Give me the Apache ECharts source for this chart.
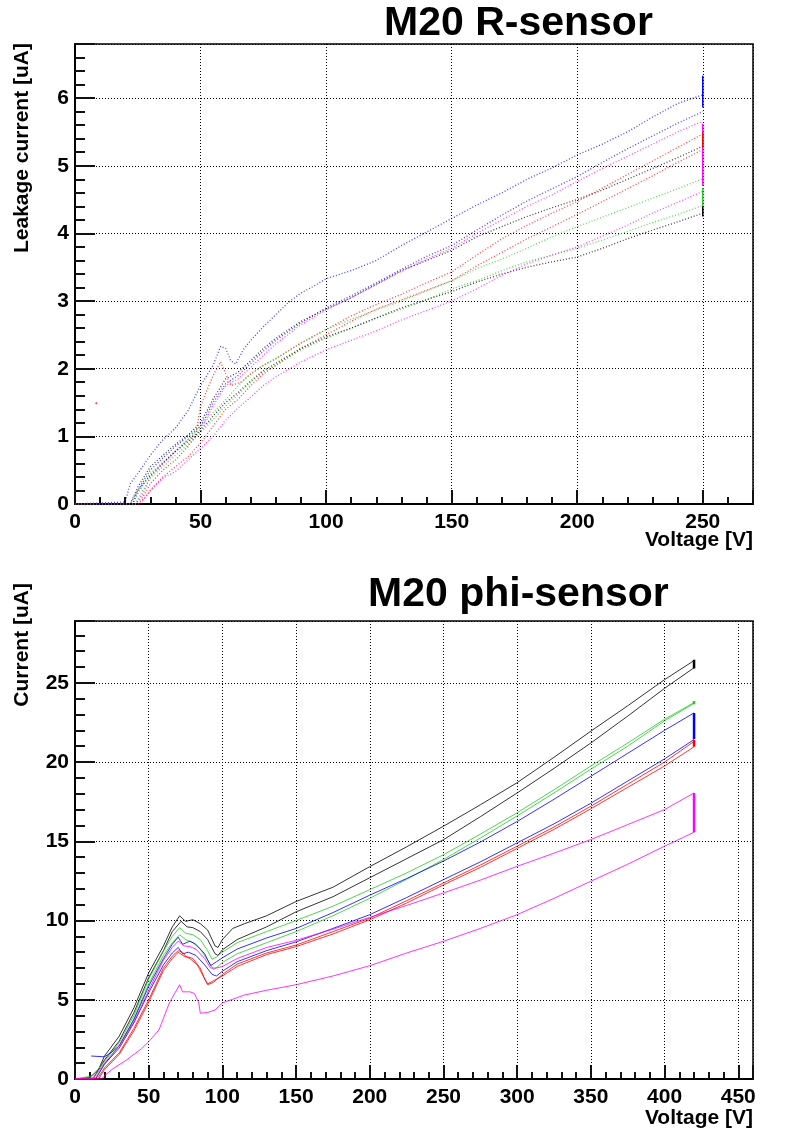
<!DOCTYPE html>
<html>
<head>
<meta charset="utf-8">
<script src="https://cdn.jsdelivr.net/npm/echarts@6/dist/echarts.min.js"></script>
<style>
html,body{margin:0;padding:0;background:#fff;}
#c{width:785px;height:1135px;}
</style>
</head>
<body>
<div id="c"></div>
<script>
// ---------- Top chart: M20 R-sensor (Voltage [V], Leakage current [uA]) ----------
const topTitle = 'M20 R-sensor';
const topXTicks = [0, 50, 100, 150, 200, 250];
const topYTicks = [0, 1, 2, 3, 4, 5, 6];

const rBlueA = [[0,0],[20,0.03],[22,0.3],[25,0.45],[30,0.72],[35,0.95],[40,1.12],[45,1.38],[50,1.75],[55,2.05],[58,2.33],[60,2.3],[62,2.12],[64,2.07],[67,2.28],[70,2.42],[75,2.62],[80,2.8],[85,2.98],[90,3.12],[95,3.22],[100,3.33],[110,3.45],[120,3.6],[130,3.82],[140,4.02],[150,4.22],[160,4.42],[170,4.6],[180,4.8],[190,4.97],[200,5.16],[210,5.32],[220,5.5],[230,5.72],[240,5.92],[250,6.05]];
const rBlueB = [[0,0],[22,0],[25,0.2],[30,0.5],[35,0.68],[40,0.85],[45,1.0],[50,1.15],[55,1.5],[60,1.78],[65,1.9],[70,2.08],[75,2.26],[80,2.42],[90,2.68],[100,2.9],[110,3.08],[120,3.27],[130,3.47],[140,3.66],[150,3.82],[160,4.05],[170,4.27],[180,4.48],[190,4.66],[200,4.84],[210,5.05],[220,5.25],[230,5.44],[240,5.63],[250,5.80]];
const rMagentaA = [[0,0],[24,0],[27,0.15],[30,0.4],[35,0.6],[40,0.78],[45,0.95],[50,1.1],[55,1.45],[60,1.75],[65,1.85],[70,2.02],[75,2.2],[80,2.37],[90,2.65],[100,2.87],[110,3.05],[120,3.24],[130,3.44],[140,3.62],[150,3.78],[160,4.0],[170,4.2],[180,4.4],[190,4.57],[200,4.77],[210,4.96],[220,5.14],[230,5.32],[240,5.5],[250,5.66]];
const rBlackA = [[0,0],[10,0],[10,0.1],[10,0],[22,0],[25,0.25],[30,0.55],[35,0.72],[40,0.88],[45,1.02],[50,1.2],[55,1.55],[60,1.85],[65,1.95],[70,2.12],[75,2.3],[80,2.45],[90,2.7],[100,2.88],[110,3.05],[120,3.25],[130,3.45],[140,3.6],[150,3.75],[160,3.95],[170,4.1],[180,4.25],[190,4.38],[200,4.5],[210,4.64],[220,4.8],[230,4.96],[240,5.12],[250,5.29]];
const rRedA = [[0,0],[24,0],[27,0.1],[30,0.3],[35,0.5],[40,0.65],[45,0.85],[48,1.0],[50,1.45],[55,1.9],[58,2.1],[62,1.75],[66,1.8],[70,1.92],[75,2.05],[80,2.15],[90,2.38],[100,2.58],[110,2.78],[120,2.95],[130,3.1],[140,3.27],[150,3.43],[160,3.68],[170,3.92],[180,4.12],[190,4.3],[200,4.47],[210,4.67],[220,4.87],[230,5.07],[240,5.27],[250,5.47]];
const rRedB = [[0,0],[25,0],[28,0.1],[30,0.2],[35,0.4],[40,0.55],[45,0.7],[50,0.9],[55,1.15],[60,1.4],[65,1.55],[70,1.75],[75,1.92],[80,2.05],[90,2.3],[100,2.5],[110,2.7],[120,2.88],[130,3.02],[140,3.16],[150,3.3],[160,3.52],[170,3.72],[180,3.92],[190,4.1],[200,4.28],[210,4.47],[220,4.66],[230,4.85],[240,5.05],[250,5.24]];
const rGreenA = [[0,0],[23,0],[25,0.15],[30,0.45],[35,0.62],[40,0.78],[45,0.95],[50,1.15],[55,1.35],[60,1.54],[65,1.75],[70,1.93],[75,2.05],[80,2.15],[90,2.38],[100,2.58],[110,2.73],[120,2.87],[130,3.0],[140,3.15],[150,3.3],[160,3.48],[170,3.62],[180,3.78],[190,3.95],[200,4.1],[210,4.24],[220,4.38],[230,4.52],[240,4.66],[250,4.81]];
const rGreenB = [[0,0],[24,0],[27,0.2],[30,0.38],[35,0.55],[40,0.72],[45,0.88],[50,1.05],[55,1.25],[60,1.45],[65,1.62],[70,1.8],[75,1.95],[80,2.05],[90,2.28],[100,2.45],[110,2.6],[120,2.75],[130,2.88],[140,3.02],[150,3.18],[160,3.3],[170,3.45],[180,3.58],[190,3.68],[200,3.78],[210,3.9],[220,4.03],[230,4.16],[240,4.28],[250,4.41]];
const rBlackB = [[0,0],[23,0],[25,0.2],[30,0.42],[35,0.6],[40,0.78],[45,0.92],[50,1.08],[55,1.3],[60,1.5],[65,1.65],[70,1.82],[75,1.97],[80,2.08],[90,2.3],[100,2.47],[110,2.6],[120,2.75],[130,2.9],[140,3.02],[150,3.14],[160,3.28],[170,3.4],[180,3.5],[190,3.58],[200,3.65],[210,3.78],[220,3.92],[230,4.05],[240,4.17],[250,4.3]];
const rMagentaB = [[0,0],[26,0],[28,0.1],[30,0.2],[35,0.38],[40,0.48],[45,0.65],[50,0.82],[55,1.0],[60,1.24],[65,1.42],[70,1.58],[75,1.75],[80,1.88],[90,2.1],[100,2.28],[110,2.42],[120,2.56],[130,2.72],[140,2.86],[150,3.0],[160,3.18],[170,3.38],[180,3.55],[190,3.68],[200,3.8],[210,3.96],[220,4.12],[230,4.3],[240,4.46],[250,4.62]];
// hold at 250 V (current drifting at fixed voltage)
const rHoldBlue = [[250,6.33],[250,5.86]];
const rHoldMagenta = [[250,5.62],[250,4.7]];
const rHoldRed = [[250,5.49],[250,5.27]];
const rHoldGreen = [[250,4.67],[250,4.40]];
const rHoldBlack = [[250,4.40],[250,4.25]];
const rStray = [[8.5,1.49]];

// ---------- Bottom chart: M20 phi-sensor (Voltage [V], Current [uA]) ----------
const botTitle = 'M20 phi-sensor';
const botXTicks = [0, 50, 100, 150, 200, 250, 300, 350, 400, 450];
const botYTicks = [0, 5, 10, 15, 20, 25];

const pBlackA = [[0,0],[10,0.1],[16,0.6],[20,1.45],[30,2.7],[40,4.5],[50,6.7],[60,8.4],[66,9.6],[71,10.3],[75,9.95],[80,10.05],[85,9.8],[90,9.4],[95,8.4],[97,8.3],[100,8.8],[107,9.5],[115,9.8],[130,10.3],[150,11.2],[175,12.1],[200,13.4],[225,14.65],[250,15.95],[275,17.3],[300,18.7],[325,20.3],[350,21.95],[375,23.55],[400,25.2],[420,26.4]];
const pBlackB = [[0,0],[12,0],[20,1.2],[30,2.4],[40,4.2],[50,6.4],[60,8.1],[66,9.3],[72,9.95],[76,9.6],[80,9.55],[85,9.3],[90,8.8],[95,7.9],[97,7.8],[100,8.15],[110,8.8],[130,9.6],[150,10.55],[175,11.5],[200,12.7],[225,13.9],[250,15.1],[275,16.55],[300,18.05],[325,19.6],[350,21.2],[375,22.9],[400,24.65],[420,25.95]];
const pGreenA = [[0,0],[12,0.2],[20,1.1],[30,2.3],[40,4.0],[50,6.3],[60,8.05],[66,9.0],[71,9.55],[75,9.2],[80,9.1],[85,8.8],[90,8.1],[93,7.55],[96,7.7],[100,8.0],[110,8.6],[130,9.3],[150,10.0],[175,10.9],[200,11.95],[225,13.0],[250,14.15],[275,15.45],[300,16.8],[325,18.25],[350,19.75],[375,21.2],[400,22.7],[420,23.75]];
const pGreenB = [[0,0],[14,0.1],[20,0.9],[30,2.1],[40,3.8],[50,6.0],[60,7.8],[66,8.6],[71,9.1],[75,8.8],[80,8.6],[85,8.2],[90,7.5],[94,6.9],[97,7.1],[100,7.35],[110,7.9],[130,8.6],[150,9.3],[175,10.3],[200,11.4],[225,12.6],[250,13.85],[275,15.2],[300,16.6],[325,18.05],[350,19.55],[375,21.0],[400,22.6],[420,23.7]];
const pBlueA = [[11,1.45],[20,1.4],[25,1.7],[30,2.1],[40,3.75],[50,5.85],[60,7.6],[66,8.5],[70,8.95],[73,8.5],[78,8.7],[82,8.5],[88,7.9],[92,7.15],[96,7.4],[100,7.65],[110,8.2],[130,8.9],[150,9.5],[175,10.5],[200,11.6],[225,12.65],[250,13.75],[275,14.95],[300,16.25],[325,17.65],[350,19.1],[375,20.55],[400,22.0],[420,23.1]];
const pBlueB = [[0,0],[14,0],[20,0.95],[30,1.95],[40,3.55],[50,5.45],[60,7.2],[66,7.95],[70,8.3],[73,7.9],[77,8.0],[82,7.8],[88,7.2],[93,6.6],[96,6.5],[100,6.8],[110,7.4],[130,8.1],[150,8.65],[175,9.5],[200,10.37],[225,11.45],[250,12.58],[275,13.7],[300,14.9],[325,16.1],[350,17.4],[375,18.8],[400,20.2],[420,21.42]];
const pRedA = [[0,0],[15,0],[20,0.7],[30,1.65],[40,3.2],[50,5.0],[60,7.0],[66,7.75],[70,8.1],[73,8.0],[75,7.75],[80,7.6],[85,7.0],[88,6.3],[90,5.95],[94,6.1],[100,6.6],[110,7.25],[130,7.95],[150,8.45],[175,9.3],[200,10.15],[225,11.25],[250,12.37],[275,13.5],[300,14.69],[325,15.9],[350,17.21],[375,18.6],[400,20.0],[420,21.3]];
const pRedB = [[0,0],[16,0],[20,0.6],[30,1.55],[40,3.05],[50,4.85],[60,6.85],[66,7.6],[70,8.0],[74,7.75],[78,7.6],[83,7.2],[87,6.5],[90,6.0],[93,6.15],[100,6.5],[110,7.1],[130,7.85],[150,8.35],[175,9.15],[200,10.05],[225,11.1],[250,12.25],[275,13.35],[300,14.55],[325,15.75],[350,17.05],[375,18.4],[400,19.75],[420,20.96]];
const pMagentaA = [[0,0],[12,0],[20,1.0],[30,2.1],[40,3.6],[50,5.6],[60,7.5],[66,8.3],[70,8.7],[74,8.4],[78,8.35],[82,8.2],[88,7.6],[92,7.0],[96,7.0],[100,7.1],[110,7.6],[130,8.3],[150,8.75],[175,9.45],[200,10.2],[225,10.95],[250,11.74],[275,12.55],[300,13.42],[325,14.25],[350,15.11],[375,16.05],[400,17.0],[420,18.05]];
const pMagentaB = [[0,0],[18,0],[20,0.2],[25,0.6],[35,1.2],[45,1.9],[50,2.35],[57,3.1],[64,4.8],[71,5.95],[73,5.5],[78,5.5],[81,5.4],[84,4.8],[85,4.15],[90,4.2],[95,4.35],[100,4.8],[115,5.3],[130,5.6],[150,5.95],[175,6.5],[200,7.15],[225,7.95],[250,8.69],[275,9.5],[300,10.37],[325,11.4],[350,12.48],[375,13.55],[400,14.69],[420,15.57]];
// hold at 420 V
const pHoldBlack = [[420,26.45],[420,25.9]];
const pHoldGreen = [[420,23.85],[420,23.65]];
const pHoldBlue = [[420,23.1],[420,21.45]];
const pHoldRed = [[420,21.4],[420,20.96]];
const pHoldMagenta = [[420,18.05],[420,15.57]];

// ---------- frame geometry ----------
const G = [
  {left: 75, top: 44, width: 678, height: 460, xMax: 270, yMax: 6.8, xTicks: topXTicks, yTicks: topYTicks},
  {left: 75, top: 621, width: 678, height: 458, xMax: 460, yMax: 28.9, xTicks: botXTicks, yTicks: botYTicks}
];

const C = {black:'#000000', red:'#ff0000', green:'#22cc22', blue:'#0000ff', magenta:'#ff00ff'};
const FONT = 'Liberation Sans';
const lbl = {fontFamily: FONT, fontWeight: 'bold', fontSize: 21, color: '#000'};

function xAx(g, i) {
  return {gridIndex: i, type: 'value', min: 0, max: g.xMax, interval: g.xTicks[1] - g.xTicks[0],
    axisLine: {show: true, lineStyle: {color: '#000', width: 2}},
    axisTick: {show: true, inside: true, length: 14, lineStyle: {color: '#111', width: 2}},
    minorTick: {show: true, splitNumber: 5, length: 7, lineStyle: {color: '#111', width: 2}},
    axisLabel: Object.assign({showMaxLabel: false}, lbl),
    splitLine: {show: true, lineStyle: {color: '#000', type: [1, 2]}}};
}
function yAx(g, i) {
  return {gridIndex: i, type: 'value', min: 0, max: g.yMax, interval: g.yTicks[1] - g.yTicks[0],
    axisLine: {show: true, lineStyle: {color: '#000', width: 2}},
    axisTick: {show: true, inside: true, length: 20, lineStyle: {color: '#111', width: 2}},
    minorTick: {show: true, splitNumber: 5, length: 10, lineStyle: {color: '#111', width: 2}},
    axisLabel: Object.assign({showMaxLabel: false, margin: 6}, lbl),
    splitLine: {show: true, lineStyle: {color: '#000', type: [1, 2]}}};
}

function curve(data, color, gi, dotted) {
  return {type: 'line', xAxisIndex: gi, yAxisIndex: gi, data: data, showSymbol: false, symbol: 'none',
    silent: true, z: 3,
    lineStyle: {color: color, width: dotted ? 1.3 : 1, type: dotted ? [1, 2] : 'solid', opacity: dotted ? 0.75 : 0.8}};
}
function hold(data, color, gi, w) {
  return {type: 'line', xAxisIndex: gi, yAxisIndex: gi, data: data, showSymbol: false, symbol: 'none',
    silent: true, z: 4, lineStyle: {color: color, width: w, type: 'solid'}};
}

const series = [
  curve(rBlueA, C.blue, 0, true), curve(rBlueB, C.blue, 0, true),
  curve(rMagentaA, C.magenta, 0, true), curve(rBlackA, C.black, 0, true),
  curve(rRedA, C.red, 0, true), curve(rRedB, C.red, 0, true),
  curve(rGreenA, C.green, 0, true), curve(rGreenB, C.green, 0, true),
  curve(rBlackB, C.black, 0, true), curve(rMagentaB, C.magenta, 0, true),
  hold(rHoldBlue, C.blue, 0, 1.5), hold(rHoldMagenta, C.magenta, 0, 1.5),
  hold(rHoldRed, C.red, 0, 1.5), hold(rHoldGreen, C.green, 0, 1.5), hold(rHoldBlack, C.black, 0, 1.5),
  {type: 'scatter', xAxisIndex: 0, yAxisIndex: 0, data: rStray, symbolSize: 2, itemStyle: {color: C.red}, silent: true},

  curve(pBlackA, C.black, 1, false), curve(pBlackB, C.black, 1, false),
  curve(pGreenA, C.green, 1, false), curve(pGreenB, C.green, 1, false),
  curve(pBlueA, C.blue, 1, false), curve(pBlueB, C.blue, 1, false),
  curve(pRedA, C.red, 1, false), curve(pRedB, C.red, 1, false),
  curve(pMagentaA, C.magenta, 1, false), curve(pMagentaB, C.magenta, 1, false),
  hold(pHoldBlack, C.black, 1, 2.5), hold(pHoldGreen, C.green, 1, 2.5),
  hold(pHoldBlue, C.blue, 1, 2.5), hold(pHoldRed, C.red, 1, 2.5), hold(pHoldMagenta, C.magenta, 1, 2.5)
];

const titleStyle = {fontFamily: FONT, fontWeight: 'bold', fontSize: 41, color: '#000'};
const nameFont = 'bold 21px "Liberation Sans"';

const option = {
  animation: false,
  backgroundColor: '#ffffff',
  title: [
    {text: topTitle, left: 384, top: 3, padding: 0, textStyle: titleStyle},
    {text: botTitle, left: 368, top: 574, padding: 0, textStyle: titleStyle}
  ],
  grid: G.map(g => ({left: g.left, top: g.top, width: g.width, height: g.height, show: true, borderColor: '#000', borderWidth: 1.5})),
  xAxis: G.map(xAx),
  yAxis: G.map(yAx),
  graphic: [
    {type: 'text', x: 753, y: 540, style: {text: 'Voltage [V]', font: nameFont, fill: '#000', align: 'right', verticalAlign: 'middle'}},
    {type: 'text', x: 753, y: 1118, style: {text: 'Voltage [V]', font: nameFont, fill: '#000', align: 'right', verticalAlign: 'middle'}},
    {type: 'text', x: 22, y: 43, rotation: Math.PI / 2, style: {text: 'Leakage current [uA]', font: nameFont, fill: '#000', align: 'right', verticalAlign: 'middle'}},
    {type: 'text', x: 22, y: 583, rotation: Math.PI / 2, style: {text: 'Current [uA]', font: nameFont, fill: '#000', align: 'right', verticalAlign: 'middle'}}
  ],
  series: series
};

const chart = echarts.init(document.getElementById('c'));
chart.setOption(option);
</script>
</body>
</html>
